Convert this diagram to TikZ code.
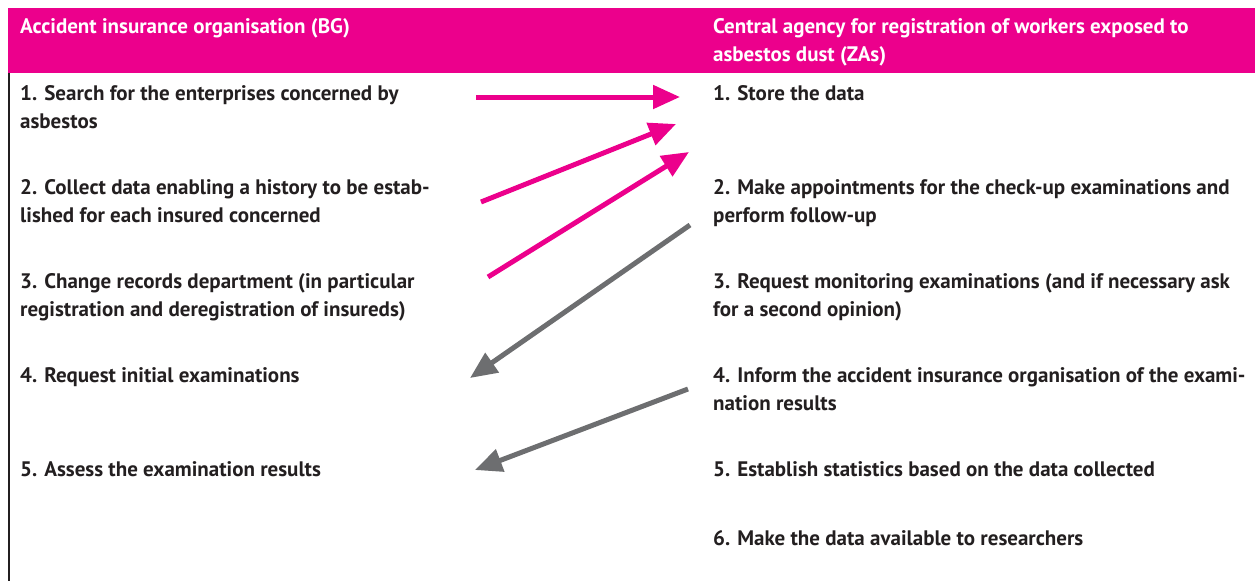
\documentclass[tikz,border=0pt]{standalone}
\usepackage{fontspec}
\setmainfont{PT Sans}
\usetikzlibrary{arrows.meta}
\definecolor{bgmagenta}{HTML}{EC008C}
\definecolor{arrowgray}{HTML}{6D6E70}
\definecolor{ink}{HTML}{231F20}
\begin{document}
\begin{tikzpicture}[x=1pt,y=-1pt,
  item/.style={anchor=base west,inner sep=0pt,align=left,text=ink,
    font=\fontsize{21}{28}\selectfont\bfseries},
  head/.style={item,text=white},
  push/.style={draw=bgmagenta,line width=5pt,-{Triangle[length=27pt,width=23pt]}},
  pull/.style={draw=arrowgray,line width=5pt,-{Triangle[length=27pt,width=23pt]}}]
\useasboundingbox (0,0) rectangle (1255,581);
% header band and left rule
\fill[bgmagenta] (8,8) rectangle (1255,73);
\draw[draw=ink,line width=2.6pt] (9,73) -- (9,581);
% column headers (anchored on the baseline of their last line)
\node[head] (hbg) at (20,33) {Accident insurance organisation (BG)};
\node[head] (hzas) at (713,61) {Central agency for registration of workers exposed to\\asbestos dust (ZAs)};
% BG tasks
\node[item] (b1) at (20,128) {1. Search for the enterprises concerned by\\asbestos};
\node[item] (b2) at (20,222) {2. Collect data enabling a history to be estab-\\lished for each insured concerned};
\node[item] (b3) at (20,316) {3. Change records department (in particular\\registration and deregistration of insureds)};
\node[item] (b4) at (20,382) {4. Request initial examinations};
\node[item] (b5) at (20,476) {5. Assess the examination results};
% ZAs tasks
\node[item] (z1) at (713,100) {1. Store the data};
\node[item] (z2) at (713,222) {2. Make appointments for the check-up examinations and\\perform follow-up};
\node[item] (z3) at (713,316) {3. Request monitoring examinations (and if necessary ask\\for a second opinion)};
\node[item] (z4) at (713,410) {4. Inform the accident insurance organisation of the exami-\\nation results};
\node[item] (z5) at (713,476) {5. Establish statistics based on the data collected};
\node[item] (z6) at (713,545) {6. Make the data available to researchers};
% connector end points
\coordinate (p1s) at (476,97);  \coordinate (p1e) at (680,97);
\coordinate (p2s) at (481,202); \coordinate (p2e) at (676,124);
\coordinate (p3s) at (488,277); \coordinate (p3e) at (689,152);
\coordinate (g1s) at (690,225); \coordinate (g1e) at (470,378);
\coordinate (g2s) at (688,389); \coordinate (g2e) at (475,470);
% data flow
\draw[push] (p1s) -- (p1e);
\draw[push] (p2s) -- (p2e);
\draw[push] (p3s) -- (p3e);
\draw[pull] (g1s) -- (g1e);
\draw[pull] (g2s) -- (g2e);
\end{tikzpicture}
\end{document}
